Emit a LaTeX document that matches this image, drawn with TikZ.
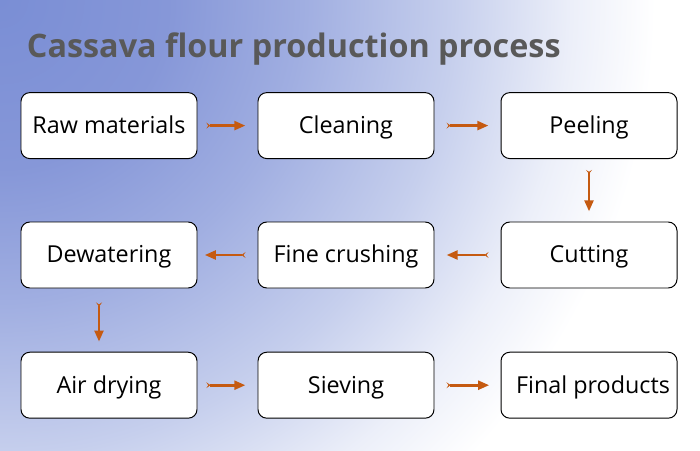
\documentclass[tikz,border=0pt]{standalone}
\usepackage{fontspec}
\setmainfont{Open Sans}
\usetikzlibrary{arrows.meta}
\definecolor{bgblueA}{RGB}{122,142,213}
\definecolor{bgblueB}{RGB}{134,151,216}
\definecolor{bgblueC}{RGB}{160,174,225}
\definecolor{bgblueD}{RGB}{198,207,237}
\definecolor{bgblueE}{RGB}{236,239,249}
\definecolor{titlegray}{RGB}{89,89,89}
\definecolor{arrowbrown}{RGB}{197,90,17}
\pgfdeclareradialshading{cornerglow}{\pgfpoint{0bp}{0bp}}{color(0bp)=(bgblueA); color(5bp)=(bgblueB); color(9bp)=(bgblueC); color(13.5bp)=(bgblueD); color(17bp)=(bgblueE); color(19.5bp)=(white); color(50bp)=(white)}
\tikzset{
  stepbox/.style={draw=black, line width=0.7pt, fill=white, rounded corners=0.22cm,
    minimum width=4.4cm, minimum height=1.65cm, inner sep=0pt,
    font=\fontsize{16.6}{20}\selectfont, text height=1.12em, text depth=0em},
  flow/.style={draw=arrowbrown, line width=2pt,
    {Stealth[reversed,length=0.1cm,width=0.15cm,inset=0.05cm]}-{Triangle[length=0.28cm,width=0.22cm]},
    shorten <=0.3cm, shorten >=0.3cm}
}
\begin{document}
\begin{tikzpicture}
\useasboundingbox (0,0) rectangle (17.5,11.25);
\fill[white] (0,0) rectangle (17.5,11.25);
\begin{scope}
  \clip (0,0) rectangle (17.5,11.25);
  \shade[shading=cornerglow] (0,11.25) circle (21);
\end{scope}
\node[anchor=base west, text=titlegray, font=\bfseries\fontsize{23}{28}\selectfont] (title) at (0.55,9.8) {Cassava flour production process};
% first row
\node[stepbox] (raw) at (2.725,8.11) {Raw materials};
\node[stepbox] (clean) at (8.65,8.11) {Cleaning};
\node[stepbox] (peel) at (14.725,8.11) {Peeling};
% second row
\node[stepbox] (dewater) at (2.725,4.875) {Dewatering};
\node[stepbox] (crush) at (8.65,4.875) {Fine crushing};
\node[stepbox] (cut) at (14.725,4.875) {Cutting};
% third row
\node[stepbox] (airdry) at (2.725,1.62) {Air drying\hspace{0.38cm}};
\node[stepbox] (sieve) at (8.65,1.62) {Sieving};
\node[stepbox] (final) at (14.725,1.62) {\hspace{0.2cm}Final products};
\draw[flow, shorten <=0.22cm] (raw) -- (clean);
\draw[flow] (clean) -- (peel);
\draw[flow, shorten <=0.27cm, shorten >=0.25cm] (peel) -- (cut);
\draw[flow] (cut) -- (crush);
\draw[flow, shorten >=0.18cm] (crush) -- (dewater);
\draw[flow, shorten <=0.35cm, shorten >=0.25cm] ([xshift=-0.25cm]dewater.south) -- ([xshift=-0.25cm]airdry.north);
\draw[flow, shorten <=0.22cm] (airdry) -- (sieve);
\draw[flow, shorten >=0.28cm] (sieve) -- (final);
\end{tikzpicture}
\end{document}
